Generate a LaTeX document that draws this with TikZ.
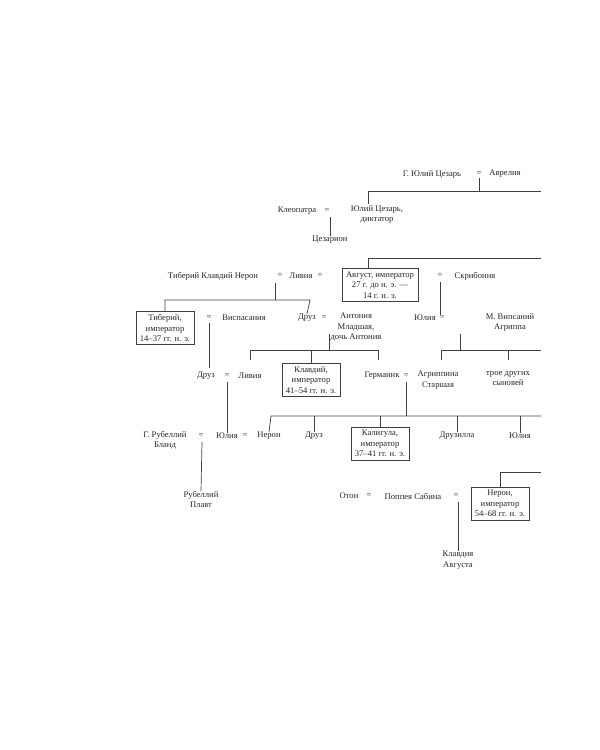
\documentclass[tikz,border=0pt]{standalone}
\usepackage{fontspec}
\setmainfont{Liberation Serif}
\begin{document}
\begin{tikzpicture}[x=1pt,y=-1pt,
  t/.style={inner sep=0pt,align=center,font=\fontsize{8.6}{10.5}\selectfont,text=black!85},
  bx/.style={t,draw=black!75,line width=0.7pt,inner xsep=4pt,inner ysep=3pt},
  ln/.style={draw=black!75,line width=0.7pt}]
\useasboundingbox (0,0) rectangle (600,750);
% generation 1
\node[t] (gjc) at (432,174) {Г. Юлий Цезарь};
\node[t] (e1) at (479,174) {=};
\node[t] (avr) at (505,174) {Аврелия};
\coordinate (r1) at (541,191);
\draw[ln] (e1.south) ++(0,2) -- (479,191);
\draw[ln] (368,204) -- (368,191) -- (r1);
% Caesar
\node[t] (kleo) at (297,211) {Клеопатра};
\node[t] (e2) at (327,211) {=};
\node[t,anchor=north] (jc) at (377,205) {Юлий Цезарь,\\диктатор};
\node[t] (caes) at (330,240) {Цезарион};
\draw[ln] (330,217) -- (caes.north);
% Augustus row
\coordinate (r2) at (541,258);
\node[bx,anchor=north] (aug) at (380,268) {Август, император\\27 г. до н. э. —\\14 г. н. э.};
\draw[ln] (r2) -- (368,258) -- (aug.north -| 368,0);
\node[t] (tcn) at (213,276) {Тиберий Клавдий Нерон};
\node[t] (e3) at (280,276) {=};
\node[t] (liv) at (301,276) {Ливия};
\node[t] (e4) at (320,276) {=};
\node[t] (e5) at (440,276) {=};
\node[t] (scr) at (475,276) {Скрибония};
% children of Livia
\node[bx,anchor=north] (tib) at (165,311) {Тиберий,\\император\\14–37 гг. н. э.};
\node[t] (e6) at (209,318) {=};
\node[t] (visp) at (244,318) {Виспасания};
\node[t] (dr1) at (307,318) {Друз};
\node[t] (e7) at (324,318) {=};
\node[t,anchor=north] (ant) at (356,313) {Антония\\Младшая,\\дочь Антония};
\node[t] (jul1) at (425,318) {Юлия};
\node[t] (e8) at (442,318) {=};
\node[t,anchor=north] (agr) at (510,313) {М. Випсаний\\Агриппа};
\draw[ln] (275,283) -- (275,300);
\draw[ln] (tib.north) -- (165,300) -- (310,300) -- (dr1.north);
\draw[ln] (440,282) -- (jul1.north -| 440,0);
% Drusus' children
\node[t] (dr2) at (206,376) {Друз};
\node[t] (e9) at (227,376) {=};
\node[t] (liv2) at (250,376) {Ливия};
\node[bx,anchor=north] (cla) at (311,363) {Клавдий,\\император\\41–54 гг. н. э.};
\node[t] (ger) at (382,376) {Германик};
\node[t] (e10) at (406,376) {=};
\node[t,anchor=north] (agr2) at (438,371) {Агриппина\\Старшая};
\node[t,anchor=north] (three) at (508,371) {трое других\\сыновей};
\draw[ln] (209,323) -- (209,368);
\draw[ln] (329,334) -- (329,350);
\draw[ln] (250,360) -- (250,350) -- (378,350) -- (378,360);
\draw[ln] (cla.north) -- (311,350);
\coordinate (r3) at (541,350);
\draw[ln] (460,334) -- (460,350);
\draw[ln] (441,360) -- (441,350) -- (r3);
\draw[ln] (508,360) -- (508,350);
% Germanicus' children
\node[t,anchor=north] (rub) at (165,431) {Г. Рубеллий\\Бланд};
\node[t] (e11) at (201,436) {=};
\node[t] (jul2) at (227,436) {Юлия};
\node[t] (e12) at (245,436) {=};
\node[t] (ner1) at (269,436) {Нерон};
\node[t] (dr3) at (314,436) {Друз};
\node[bx,anchor=north] (cal) at (380,427) {Калигула,\\император\\37–41 гг. н. э.};
\node[t] (drl) at (457,436) {Друзилла};
\node[t] (jul3) at (520,436) {Юлия};
\coordinate (r4) at (541,416);
\draw[ln] (227,382) -- (jul2.north);
\draw[ln] (406,382) -- (406,416);
\draw[ln] (ner1.north) -- (271,416) -- (r4);
\draw[ln] (314,416) -- (dr3.north);
\draw[ln] (380,416) -- (cal.north);
\draw[ln] (457,416) -- (drl.north);
\draw[ln] (520,416) -- (jul3.north);
% Rubellius Plautus
\node[t,anchor=north] (rp) at (201,491) {Рубеллий\\Плавт};
\draw[ln] (202,442) -- (rp.north);
% Nero row
\coordinate (r5) at (541,472);
\node[bx,anchor=north] (ner2) at (500,487) {Нерон,\\император\\54–68 гг. н. э.};
\draw[ln] (ner2.north) -- (500,472) -- (r5);
\node[t] (oto) at (349,496) {Отон};
\node[t] (e13) at (369,496) {=};
\node[t] (pop) at (413,496) {Поппея Сабина};
\node[t] (e14) at (456,496) {=};
\node[t,anchor=north] (cla2) at (458,551) {Клавдия\\Августа};
\draw[ln] (458,502) -- (cla2.north);
\end{tikzpicture}
\end{document}
